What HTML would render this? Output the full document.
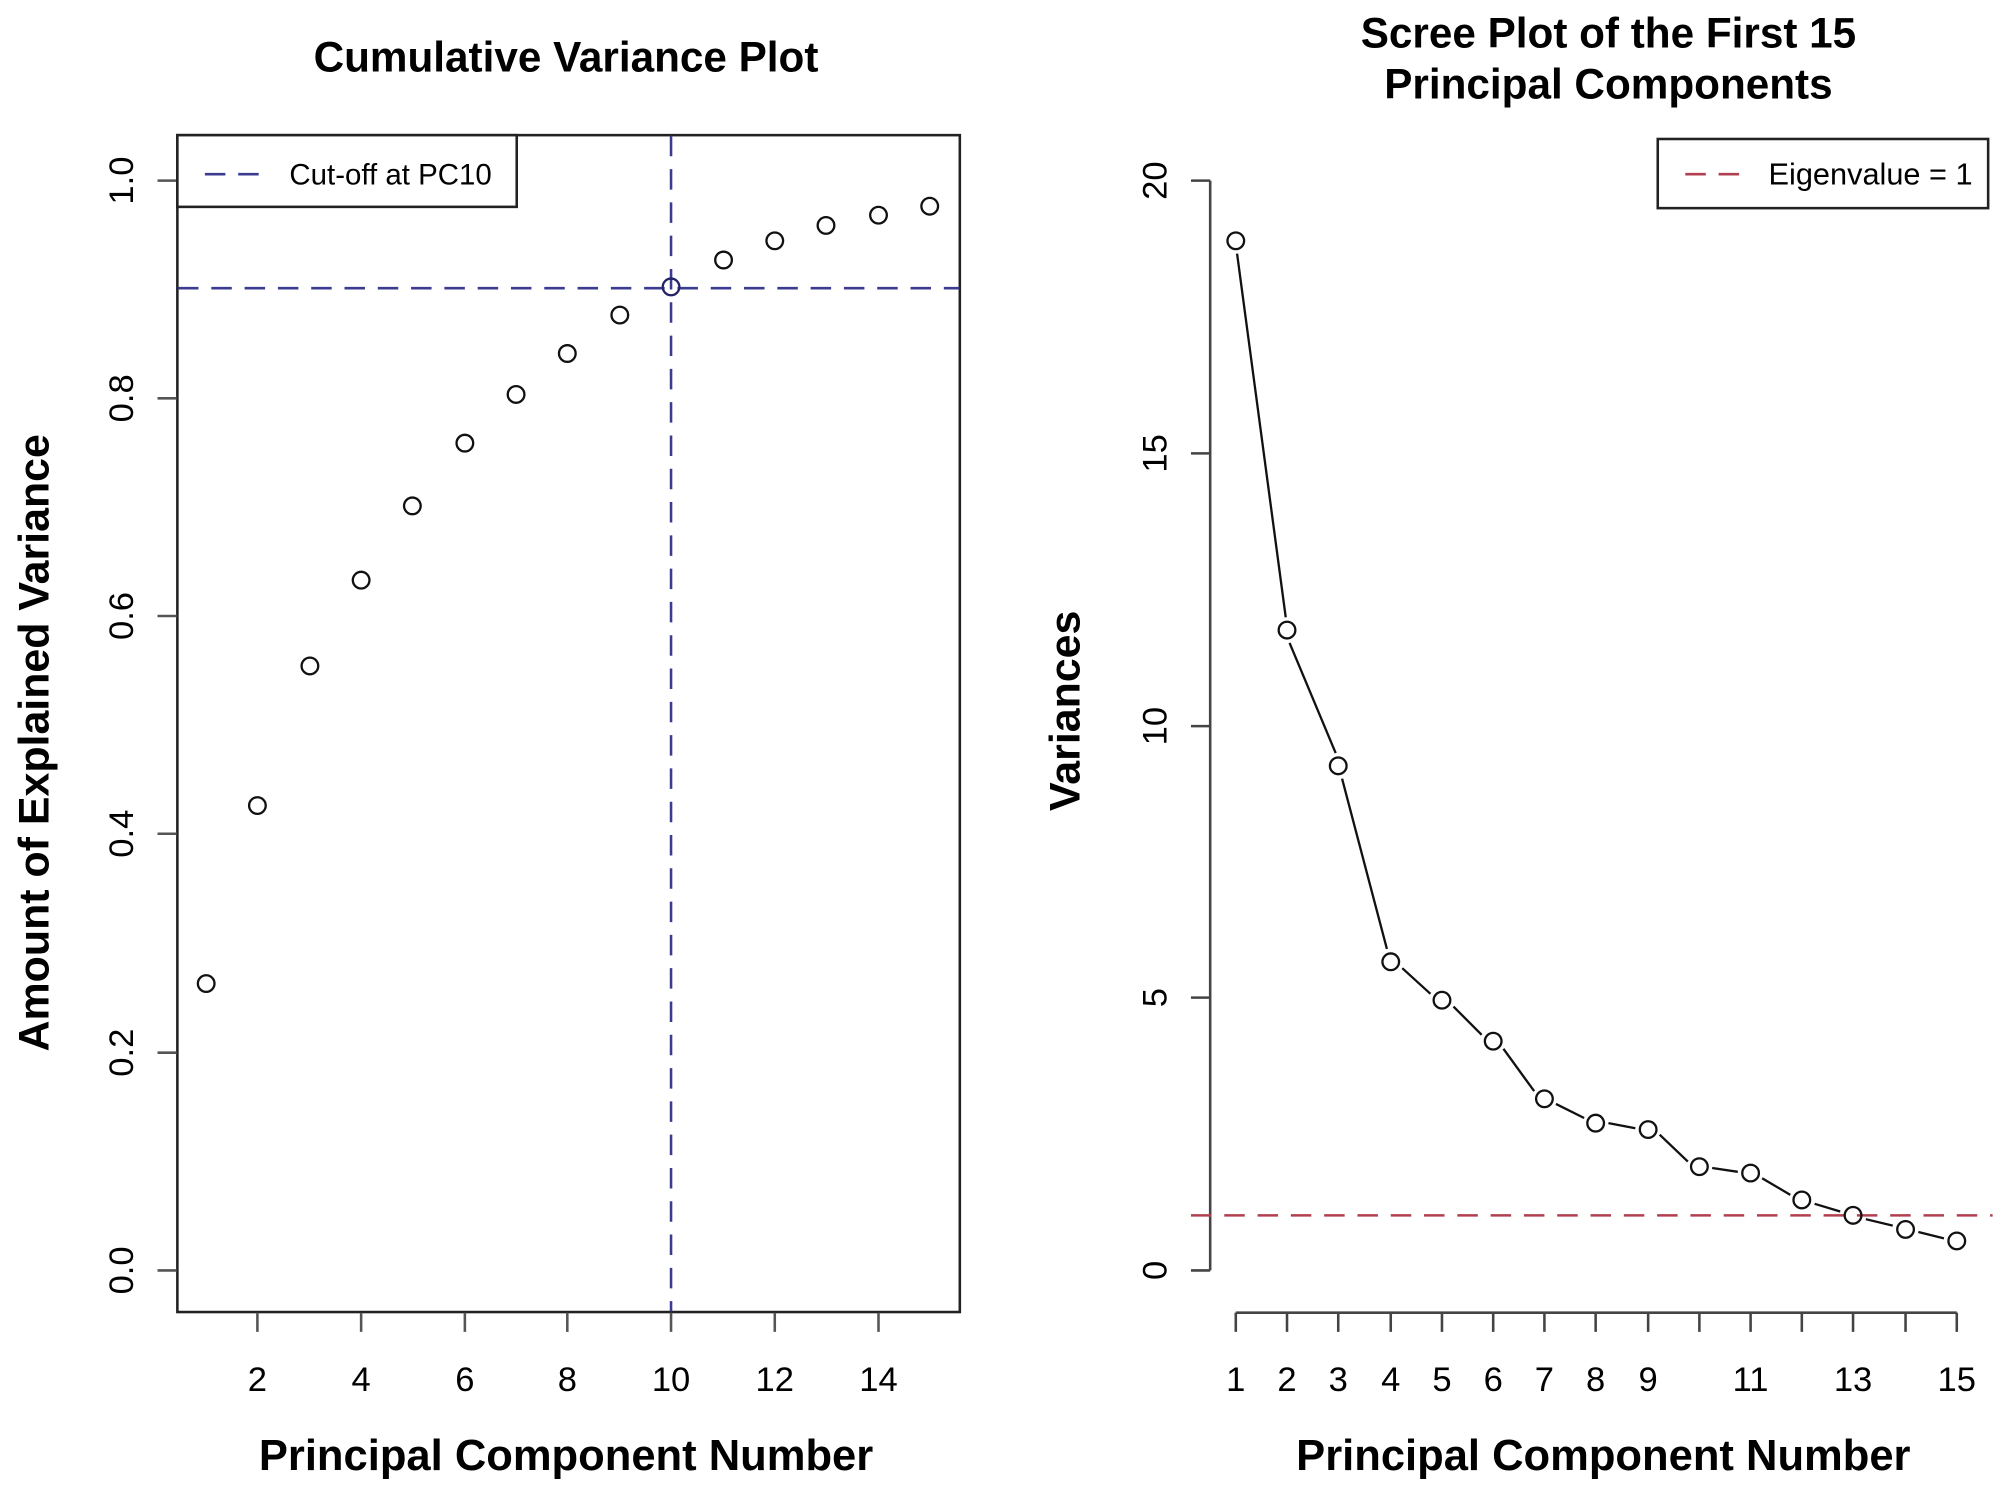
<!DOCTYPE html>
<html><head><meta charset="utf-8"><style>
html,body{margin:0;padding:0;background:#fff;}
svg{display:block;}
text{font-family:"Liberation Sans",Arial,sans-serif;fill:#000;}
</style></head><body>
<svg width="2008" height="1492" viewBox="0 0 1568 1165" xmlns="http://www.w3.org/2000/svg">
<rect width="1568" height="1165" fill="#fff"/>
<!-- LEFT PLOT -->
<text x="442" y="56" font-size="33" font-weight="bold" text-anchor="middle">Cumulative Variance Plot</text>
<rect x="138.5" y="105.5" width="611" height="919" fill="none" stroke="#222" stroke-width="2"/>
<g stroke="#555" stroke-width="2">
<line x1="123" y1="141" x2="138" y2="141"/><line x1="123" y1="311" x2="138" y2="311"/>
<line x1="123" y1="481" x2="138" y2="481"/><line x1="123" y1="651" x2="138" y2="651"/>
<line x1="123" y1="822" x2="138" y2="822"/><line x1="123" y1="992" x2="138" y2="992"/>
<line x1="201" y1="1025" x2="201" y2="1040"/><line x1="282" y1="1025" x2="282" y2="1040"/>
<line x1="363" y1="1025" x2="363" y2="1040"/><line x1="443" y1="1025" x2="443" y2="1040"/>
<line x1="524" y1="1025" x2="524" y2="1040"/><line x1="605" y1="1025" x2="605" y2="1040"/>
<line x1="686" y1="1025" x2="686" y2="1040"/>
</g>
<g font-size="27" text-anchor="middle">
<text transform="translate(104,141) rotate(-90)">1.0</text>
<text transform="translate(104,311) rotate(-90)">0.8</text>
<text transform="translate(104,481) rotate(-90)">0.6</text>
<text transform="translate(104,651) rotate(-90)">0.4</text>
<text transform="translate(104,822) rotate(-90)">0.2</text>
<text transform="translate(104,992) rotate(-90)">0.0</text>
<text x="201" y="1086">2</text><text x="282" y="1086">4</text><text x="363" y="1086">6</text>
<text x="443" y="1086">8</text><text x="524" y="1086">10</text><text x="605" y="1086">12</text>
<text x="686" y="1086">14</text>
</g>
<text transform="translate(38,580) rotate(-90)" font-size="33.5" font-weight="bold" text-anchor="middle">Amount of Explained Variance</text>
<text x="442" y="1148" font-size="34" font-weight="bold" text-anchor="middle">Principal Component Number</text>
<g stroke="#3b3b8f" stroke-width="2" stroke-dasharray="16,10">
<line x1="524" y1="106" x2="524" y2="1024"/>
<line x1="139" y1="225" x2="749" y2="225"/>
</g>
<rect x="138.5" y="105.5" width="265" height="56" fill="#fff" stroke="#222" stroke-width="2"/>
<line x1="160" y1="136" x2="202" y2="136" stroke="#3b3b8f" stroke-width="2" stroke-dasharray="16,10"/>
<text x="226" y="144" font-size="23">Cut-off at PC10</text>
<g fill="none" stroke="#111" stroke-width="1.8">
<circle cx="161" cy="768" r="6.5"/><circle cx="201" cy="629" r="6.5"/><circle cx="242" cy="520" r="6.5"/>
<circle cx="282" cy="453" r="6.5"/><circle cx="322" cy="395" r="6.5"/><circle cx="363" cy="346" r="6.5"/>
<circle cx="403" cy="308" r="6.5"/><circle cx="443" cy="276" r="6.5"/><circle cx="484" cy="246" r="6.5"/>
<circle cx="524" cy="224" r="6.5" stroke="#222266"/><circle cx="565" cy="203" r="6.5"/><circle cx="605" cy="188" r="6.5"/>
<circle cx="645" cy="176" r="6.5"/><circle cx="686" cy="168" r="6.5"/><circle cx="726" cy="161" r="6.5"/>
</g>
<!-- RIGHT PLOT -->
<text x="1256" y="37" font-size="33" font-weight="bold" text-anchor="middle">Scree Plot of the First 15</text>
<text x="1256" y="77" font-size="33" font-weight="bold" text-anchor="middle">Principal Components</text>
<g stroke="#444" stroke-width="2" fill="none">
<line x1="945" y1="141" x2="945" y2="992"/>
<line x1="930" y1="141" x2="945" y2="141"/><line x1="930" y1="354" x2="945" y2="354"/>
<line x1="930" y1="567" x2="945" y2="567"/><line x1="930" y1="779" x2="945" y2="779"/>
<line x1="930" y1="992" x2="945" y2="992"/>
<line x1="965" y1="1025" x2="1528" y2="1025"/>
</g>
<g stroke="#444" stroke-width="2">
<line x1="965" y1="1025" x2="965" y2="1040"/><line x1="1005" y1="1025" x2="1005" y2="1040"/>
<line x1="1045" y1="1025" x2="1045" y2="1040"/><line x1="1086" y1="1025" x2="1086" y2="1040"/>
<line x1="1126" y1="1025" x2="1126" y2="1040"/><line x1="1166" y1="1025" x2="1166" y2="1040"/>
<line x1="1206" y1="1025" x2="1206" y2="1040"/><line x1="1246" y1="1025" x2="1246" y2="1040"/>
<line x1="1287" y1="1025" x2="1287" y2="1040"/><line x1="1327" y1="1025" x2="1327" y2="1040"/>
<line x1="1367" y1="1025" x2="1367" y2="1040"/><line x1="1407" y1="1025" x2="1407" y2="1040"/>
<line x1="1447" y1="1025" x2="1447" y2="1040"/><line x1="1488" y1="1025" x2="1488" y2="1040"/>
<line x1="1528" y1="1025" x2="1528" y2="1040"/>
</g>
<g font-size="27" text-anchor="middle">
<text transform="translate(911,141) rotate(-90)">20</text>
<text transform="translate(911,354) rotate(-90)">15</text>
<text transform="translate(911,567) rotate(-90)">10</text>
<text transform="translate(911,779) rotate(-90)">5</text>
<text transform="translate(911,992) rotate(-90)">0</text>
<text x="965" y="1086">1</text><text x="1005" y="1086">2</text><text x="1045" y="1086">3</text>
<text x="1086" y="1086">4</text><text x="1126" y="1086">5</text><text x="1166" y="1086">6</text>
<text x="1206" y="1086">7</text><text x="1246" y="1086">8</text><text x="1287" y="1086">9</text>
<text x="1367" y="1086">11</text><text x="1447" y="1086">13</text><text x="1528" y="1086">15</text>
</g>
<text transform="translate(843,555) rotate(-90)" font-size="33.5" font-weight="bold" text-anchor="middle">Variances</text>
<text x="1252" y="1148" font-size="34" font-weight="bold" text-anchor="middle">Principal Component Number</text>
<line x1="930" y1="949" x2="1556" y2="949" stroke="#b0404f" stroke-width="2" stroke-dasharray="16,10"/>
<rect x="1294.5" y="108.5" width="258" height="54" fill="#fff" stroke="#222" stroke-width="2"/>
<line x1="1316" y1="136" x2="1358" y2="136" stroke="#b0404f" stroke-width="2" stroke-dasharray="16,10"/>
<text x="1381" y="144" font-size="24">Eigenvalue = 1</text>
<g stroke="#111" stroke-width="1.8">
<line x1="966" y1="198" x2="1004" y2="482"/>
<line x1="1007" y1="502" x2="1043" y2="588"/>
<line x1="1048" y1="608" x2="1083" y2="741"/>
<line x1="1095" y1="756" x2="1117" y2="776"/>
<line x1="1135" y1="786" x2="1157" y2="808"/>
<line x1="1174" y1="819" x2="1198" y2="852"/>
<line x1="1215" y1="862" x2="1237" y2="873"/>
<line x1="1256" y1="877" x2="1277" y2="881"/>
<line x1="1296" y1="886" x2="1318" y2="907"/>
<line x1="1337" y1="912" x2="1357" y2="915"/>
<line x1="1376" y1="920" x2="1398" y2="933"/>
<line x1="1417" y1="940" x2="1437" y2="946"/>
<line x1="1457" y1="952" x2="1478" y2="957"/>
<line x1="1498" y1="962" x2="1518" y2="967"/>
</g>
<g fill="none" stroke="#111" stroke-width="1.8">
<circle cx="965" cy="188" r="6.5"/><circle cx="1005" cy="492" r="6.5"/><circle cx="1045" cy="598" r="6.5"/>
<circle cx="1086" cy="751" r="6.5"/><circle cx="1126" cy="781" r="6.5"/><circle cx="1166" cy="813" r="6.5"/>
<circle cx="1206" cy="858" r="6.5"/><circle cx="1246" cy="877" r="6.5"/><circle cx="1287" cy="882" r="6.5"/>
<circle cx="1327" cy="911" r="6.5"/><circle cx="1367" cy="916" r="6.5"/><circle cx="1407" cy="937" r="6.5"/>
<circle cx="1447" cy="949" r="6.5"/><circle cx="1488" cy="960" r="6.5"/><circle cx="1528" cy="969" r="6.5"/>
</g>
</svg>
</body></html>
